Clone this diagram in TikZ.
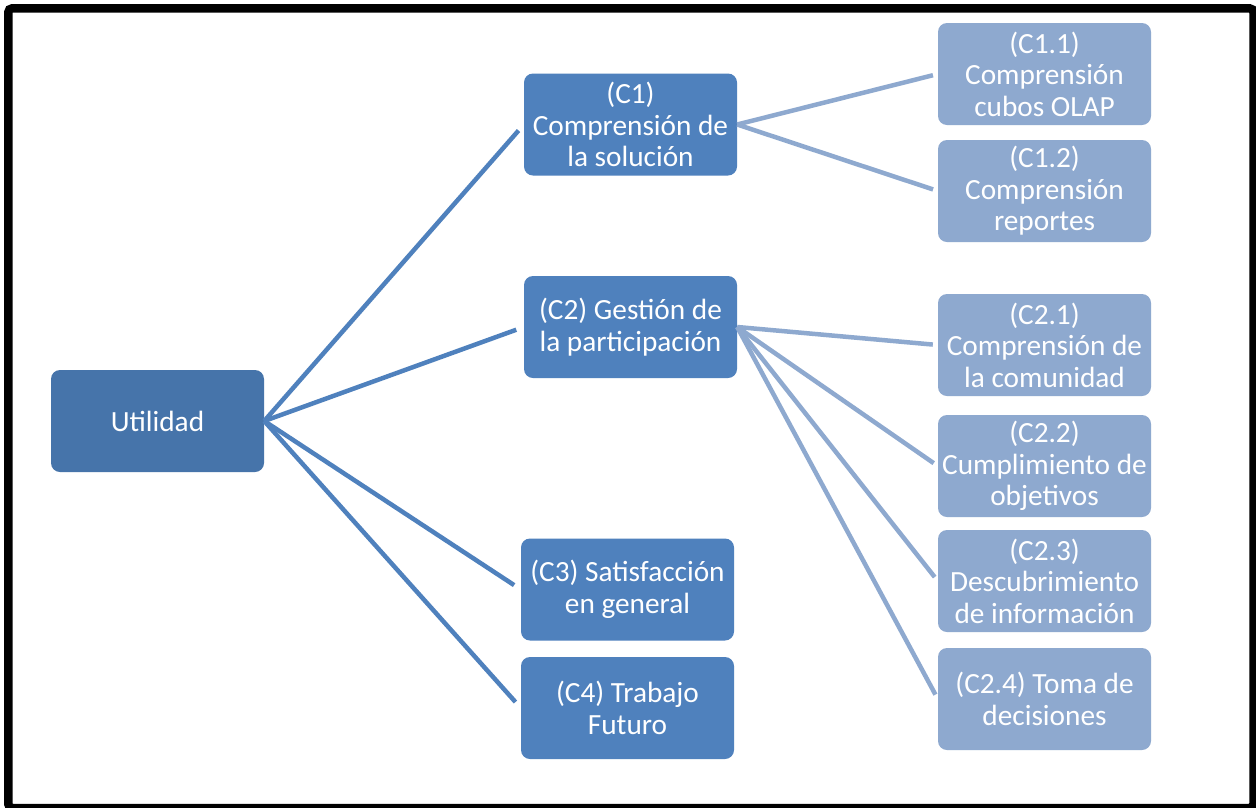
\documentclass[tikz,border=0pt]{standalone}
\usepackage{fontspec}
\setmainfont{Carlito}
\definecolor{rootblue}{HTML}{4674AA}
\definecolor{midblue}{HTML}{4F81BD}
\definecolor{leafblue}{HTML}{8EA9CF}
\begin{document}
\begin{tikzpicture}[x=1pt,y=-1pt,
  box/.style={rounded corners=9pt, minimum width=213pt, minimum height=102pt,
    align=center, text=white, inner sep=2pt,
    font=\fontsize{29.3}{31.5}\selectfont},
  rootbox/.style={box, fill=rootblue},
  midbox/.style={box, fill=midblue},
  leafbox/.style={box, fill=leafblue},
  mainlink/.style={draw=midblue, line width=4.5pt, shorten >=8pt},
  leaflink/.style={draw=leafblue, line width=4.5pt, shorten >=5pt}]
\useasboundingbox (0,0) rectangle (1256,807);
\fill[white] (0,0) rectangle (1256,807);
% outer frame
\draw[line width=8.5pt, rounded corners=4pt] (8.3,8.3) rectangle (1253.5,808);

% nodes
\node[rootbox] (U) at (157.5,421) {Utilidad};
\node[midbox] (C1) at (630.5,124.5) {(C1)\\Comprensión de\\la solución};
\node[midbox] (C2) at (630.5,327) {(C2) Gestión de\\la participación};
\node[midbox] (C3) at (627.5,589.5) {(C3) Satisfacción\\en general};
\node[midbox] (C4) at (627.5,708) {(C4) Trabajo\\Futuro};

\node[leafbox] (C11) at (1044.5,74) {(C1.1)\\Comprensión\\cubos OLAP};
\node[leafbox] (C12) at (1044.5,191) {(C1.2)\\Comprensión\\reportes};
\node[leafbox] (C21) at (1044.5,345) {(C2.1)\\Comprensión de\\la comunidad};
\node[leafbox] (C22) at (1044.5,466) {(C2.2)\\Cumplimiento de\\objetivos};
\node[leafbox] (C23) at (1044.5,581) {(C2.3)\\Descubrimiento\\de información};
\node[leafbox] (C24) at (1044.5,699) {(C2.4) Toma de\\decisiones};

% connectors
\foreach \t in {C1,C2,C3,C4}
  \path[mainlink] (U.east) -- (\t.west);
\foreach \t in {C11,C12}
  \path[leaflink] (C1.east) -- (\t.west);
\foreach \t in {C21,C22,C23,C24}
  \path[leaflink] (C2.east) -- (\t.west);
\end{tikzpicture}
\end{document}
